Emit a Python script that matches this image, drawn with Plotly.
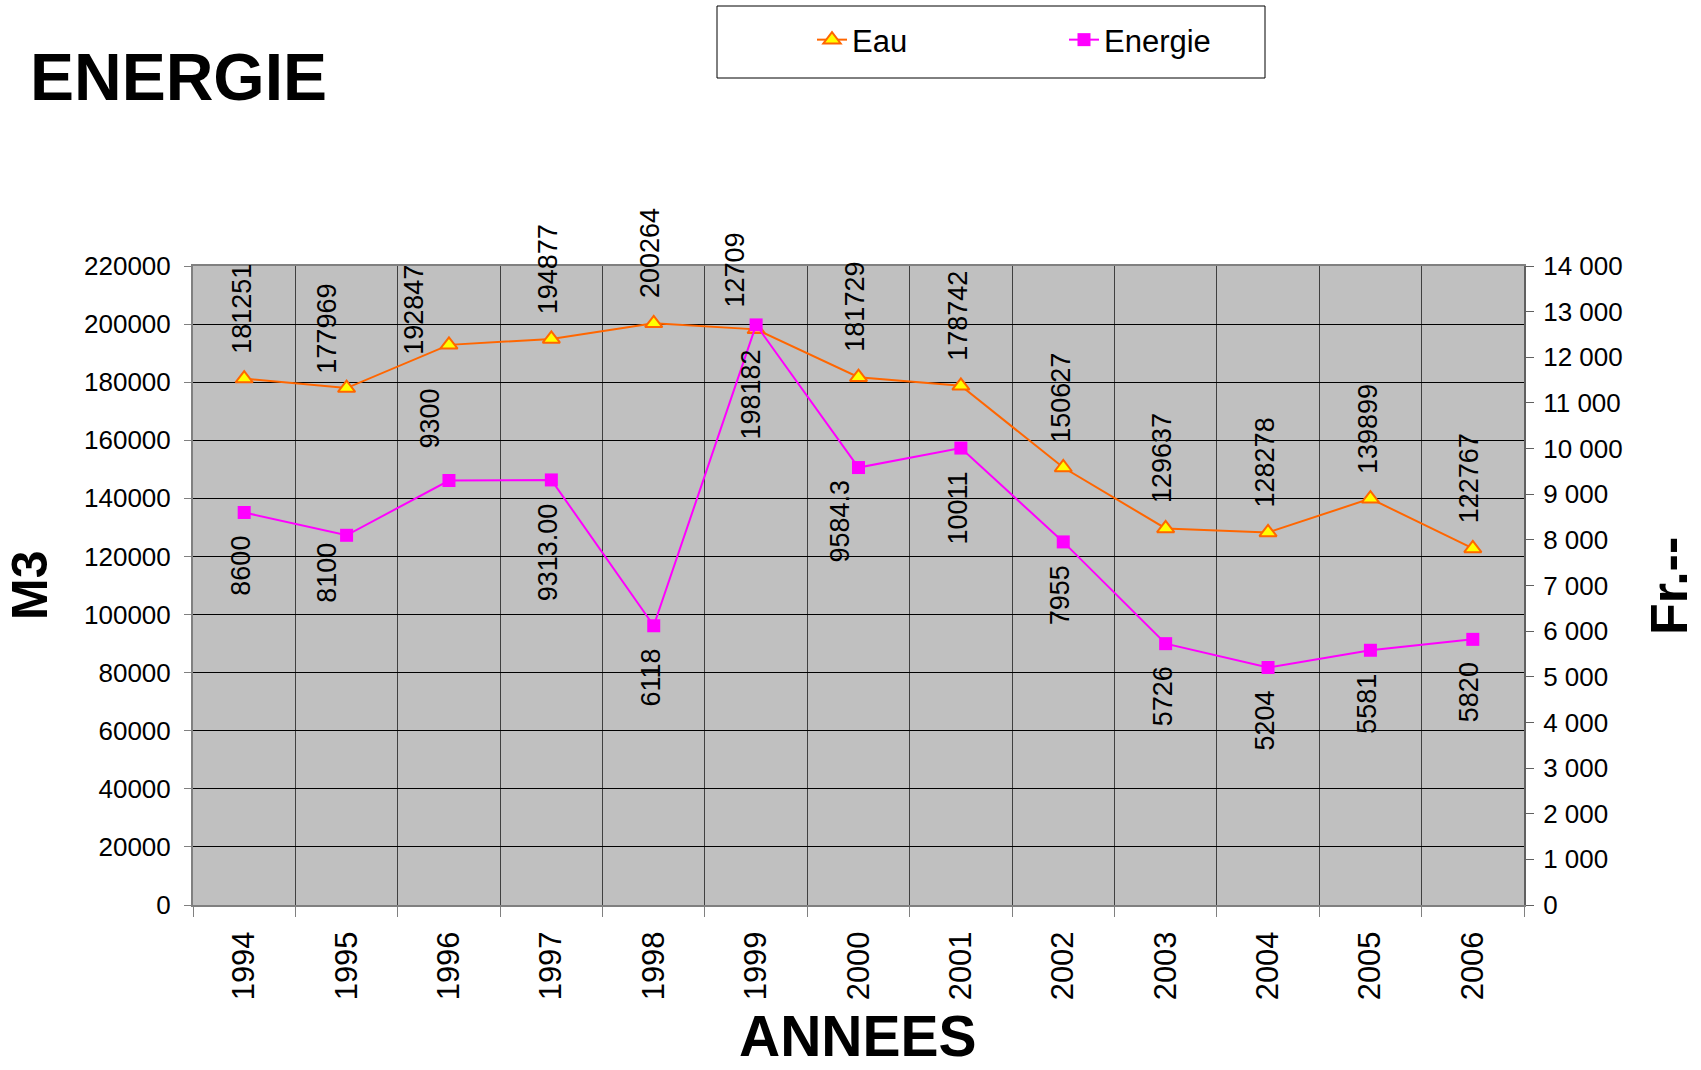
import plotly.graph_objects as go

# données
annees = ["1994", "1995", "1996", "1997", "1998", "1999", "2000",
          "2001", "2002", "2003", "2004", "2005", "2006"]
eau = [181251, 177969, 192847, 194877, 200264, 198182, 181729,
       178742, 150627, 129637, 128278, 139899, 122767]
energie = [8600, 8100, 9300, 9313.00, 6118, 12709, 9584.3,
           10011, 7955, 5726, 5204, 5581, 5820]
energie_txt = ["8600", "8100", "9300", "9313.00", "6118", "12709", "9584.3",
               "10011", "7955", "5726", "5204", "5581", "5820"]

# placement des étiquettes (côté, écart px, décalage x px)
eau_lbl = {1: ("up", 12, -20), 2: ("up", -12, -35), 5: ("down", 18, -5)}
ene_lbl = {1: ("down", 6, -19), 2: ("up", 30, -19), 5: ("up", 15, -21),
           6: ("down", 10, -18)}

FONT = "Liberation Sans, Arial, sans-serif"
W, H = 1701, 1070
X0, X1, Y0, Y1 = 193, 1524, 266, 905  # zone du graphique (pixels)
L, R, T, B = X0, W - X1, Y0, H - Y1
PW, PH = X1 - X0, Y1 - Y0


def px_x(p):
    return (p - X0) / PW


def px_y(p):
    return (Y1 - p) / PH


idx = list(range(len(annees)))

fig = go.Figure()
fig.add_trace(go.Scatter(
    x=idx, y=eau, name="Eau", mode="lines+markers",
    line=dict(color="#FF6600", width=2),
    marker=dict(symbol="triangle-up", size=15, color="#FFFF00",
                line=dict(color="#FF6600", width=2)),
))
fig.add_trace(go.Scatter(
    x=idx, y=energie, name="Energie", mode="lines+markers", yaxis="y2",
    line=dict(color="#FF00FF", width=2),
    marker=dict(symbol="square", size=13, color="#FF00FF"),
))

annotations = []
for i in idx:
    side, gap, dx = eau_lbl.get(i, ("up", 23, -3))
    annotations.append(dict(
        x=i, y=eau[i], xref="x", yref="y", text=str(eau[i]), showarrow=False,
        textangle=-90, font=dict(family=FONT, size=27, color="black"),
        xanchor="center", yanchor="bottom" if side == "up" else "top",
        yshift=gap if side == "up" else -gap, xshift=dx,
    ))
    side, gap, dx = ene_lbl.get(i, ("down", 21, -3))
    annotations.append(dict(
        x=i, y=energie[i], xref="x", yref="y2", text=energie_txt[i], showarrow=False,
        textangle=-90, font=dict(family=FONT, size=27, color="black"),
        xanchor="center", yanchor="bottom" if side == "up" else "top",
        yshift=gap if side == "up" else -gap, xshift=dx,
    ))

# titres des axes
annotations += [
    dict(text="<b>M3</b>", xref="paper", yref="paper", x=px_x(30), y=px_y(586),
         xanchor="center", yanchor="middle", textangle=-90, showarrow=False,
         font=dict(family=FONT, size=50, color="black")),
    dict(text="<b>Fr.--</b>", xref="paper", yref="paper", x=px_x(1669), y=px_y(586),
         xanchor="center", yanchor="middle", textangle=-90, showarrow=False,
         font=dict(family=FONT, size=52, color="black")),
    dict(text="<b>ANNEES</b>", xref="paper", yref="paper", x=px_x(858), y=px_y(1070),
         xanchor="center", yanchor="bottom", showarrow=False,
         font=dict(family=FONT, size=57, color="black")),
]

fig.update_layout(
    width=W, height=H,
    margin=dict(l=L, r=R, t=T, b=B, autoexpand=False),
    paper_bgcolor="white", plot_bgcolor="#C0C0C0",
    separators=". ",
    font=dict(family=FONT, size=26, color="black"),
    title=dict(text="<b>ENERGIE</b>", xref="container", yref="container",
               x=30 / W, xanchor="left", y=1 - 77 / H, yanchor="middle",
               font=dict(family=FONT, size=66, color="black")),
    xaxis=dict(
        range=[-0.5, len(annees) - 0.5], tickmode="array", tickvals=idx, ticktext=annees,
        tickangle=-90, ticks="", showgrid=False, zeroline=False,
        tickfont=dict(size=31), ticklabelstandoff=12,
        showline=True, linecolor="#808080", linewidth=2, mirror=True,
        minor=dict(tickmode="linear", tick0=-0.5, dtick=1, showgrid=True,
                   gridcolor="#404040", gridwidth=1, ticks="outside",
                   ticklen=10, tickcolor="#808080", tickwidth=1),
    ),
    yaxis=dict(
        range=[0, 220000], dtick=20000, tickformat="d", showgrid=True,
        gridcolor="black", gridwidth=1, zeroline=False,
        ticks="outside", ticklen=7, tickcolor="#808080", ticklabelstandoff=8,
        showline=True, linecolor="#808080", linewidth=2,
    ),
    yaxis2=dict(
        range=[0, 14000], dtick=1000, tickformat=",d", overlaying="y", side="right",
        showgrid=False, zeroline=False, ticks="outside", ticklen=8,
        tickcolor="#606060", ticklabelstandoff=4,
        showline=True, linecolor="#606060", linewidth=2,
    ),
    legend=dict(
        orientation="h", x=px_x(812), xanchor="left", y=px_y(40), yanchor="middle",
        font=dict(family=FONT, size=31), bgcolor="rgba(0,0,0,0)",
        entrywidth=207, entrywidthmode="pixels",
    ),
    shapes=[dict(type="rect", xref="paper", yref="paper",
                 x0=px_x(717), x1=px_x(1265), y0=px_y(78), y1=px_y(6),
                 line=dict(color="black", width=1), fillcolor="white", layer="below")],
    annotations=annotations,
    showlegend=True,
)

# la page ne doit pas décaler le graphique (marge par défaut du <body>)
fig.write_html("out.html", config={"displayModeBar": False},
               post_script="document.body.style.margin = '0';")
